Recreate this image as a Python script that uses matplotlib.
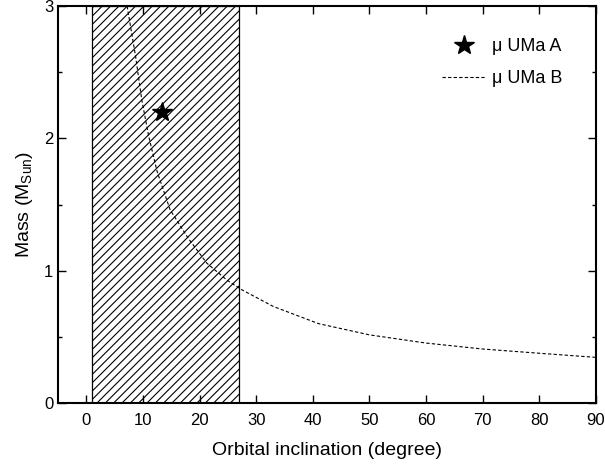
import matplotlib
matplotlib.use("Agg")
import matplotlib.pyplot as plt
from matplotlib.patches import Rectangle
from matplotlib.ticker import MultipleLocator

# --- Data ---
# Allowed inclination range (hatched band)
incl_range = [1.0, 27.0]

# mu UMa A: single point (inclination, mass)
star_incl = [13.4]
star_mass = [2.2]

# mu UMa B: mass as a function of orbital inclination
b_incl = [7.2, 8.7, 9.8, 11.0, 12.5, 14.8, 18.0, 21.3, 24.8, 27.5,
          33.0, 41.0, 50.0, 60.0, 70.0, 80.0, 90.0]
b_mass = [3.0, 2.62, 2.29, 2.02, 1.75, 1.46, 1.245, 1.056, 0.93, 0.855,
          0.73, 0.60, 0.515, 0.453, 0.408, 0.376, 0.345]

x_ticks = [0, 10, 20, 30, 40, 50, 60, 70, 80, 90]
y_ticks = [0, 1, 2, 3]

plt.rcParams['font.family'] = ['Liberation Sans', 'DejaVu Sans']
plt.rcParams['mathtext.fontset'] = 'custom'
plt.rcParams['mathtext.rm'] = 'Liberation Sans'
plt.rcParams['hatch.linewidth'] = 0.8

fig = plt.figure(figsize=(6.05, 4.66), dpi=100)
ax = fig.add_axes([0.0959, 0.1352, 0.889, 0.8518])

# Hatched band of allowed inclinations
band = Rectangle((incl_range[0], 0), incl_range[1] - incl_range[0], 3,
                 facecolor='none', edgecolor='black', hatch='////', linewidth=0.9)
ax.add_patch(band)

ax.plot(star_incl, star_mass, linestyle='none', marker='*', color='black',
        markersize=15, label='\u03bc UMa A')
ax.plot(b_incl, b_mass, color='black', linewidth=0.8, linestyle=(0, (3, 2)),
        label='\u03bc UMa B')

ax.set_xlim(-5, 90)
ax.set_ylim(0, 3)
ax.set_xticks(x_ticks)
ax.set_yticks(y_ticks)
ax.yaxis.set_minor_locator(MultipleLocator(0.5))

ax.tick_params(which='both', direction='in', top=True, right=True, labelsize=12)
ax.tick_params(axis='x', pad=7)
ax.tick_params(which='major', length=6, width=1)
ax.tick_params(which='minor', length=3, width=1)
for spine in ax.spines.values():
    spine.set_linewidth(1.5)

ax.set_xlabel('Orbital inclination (degree)', fontsize=14, labelpad=10)
ax.set_ylabel('Mass (M$_{\\mathrm{Sun}}$)', fontsize=14, labelpad=6)

ax.legend(loc='upper right', frameon=False, fontsize=13, handlelength=2.4,
          handletextpad=0.4, labelspacing=0.85, borderaxespad=0,
          bbox_to_anchor=(0.952, 0.938))

fig.savefig('out.png', dpi=100)
